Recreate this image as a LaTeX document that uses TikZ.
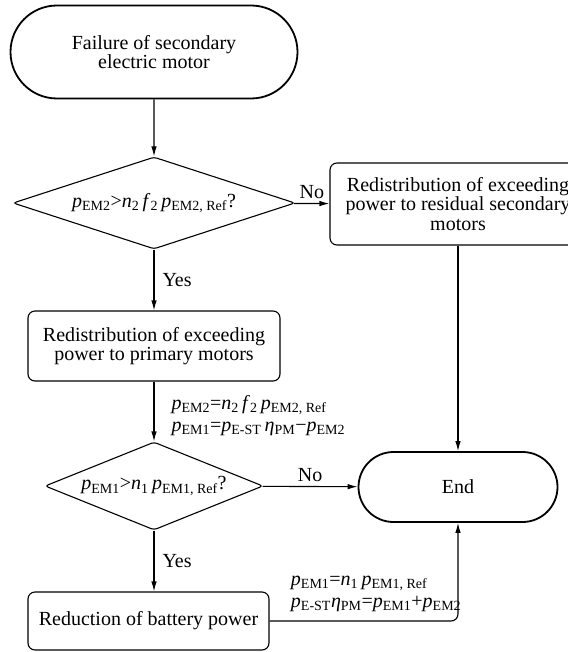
\documentclass[tikz,border=0pt]{standalone}
\usepackage{fontspec}
\setmainfont{Liberation Serif}
\usetikzlibrary{arrows.meta,positioning,shapes.geometric,shapes.misc}
\tikzstyle{term}=[rounded rectangle, draw, line width=1.8pt, inner sep=0pt, align=center]
\tikzstyle{dec}=[diamond, aspect=3.5, draw, line width=1.1pt, rounded corners=3pt, inner sep=0pt, align=center]
\tikzstyle{proc}=[rectangle, draw, line width=1.1pt, rounded corners=7pt, inner sep=0pt, align=center]
\tikzstyle{conn}=[draw, line width=1.1pt, -{Latex[length=10pt,width=5.5pt]}]
\tikzstyle{lbl}=[inner sep=2pt]
\tikzstyle{eqn}=[inner sep=2pt, align=left, font=\fontsize{20}{21.5}\selectfont]
\newcommand{\pv}[1]{\textit{p}\textsubscript{#1}}
\newcommand{\iv}[2]{\textit{#1}\textsubscript{#2}}
\begin{document}
\begin{tikzpicture}[x=1pt,y=-1pt,font=\fontsize{20}{19.5}\selectfont]
\useasboundingbox (0,0) rectangle (567,652);
\draw (154,52) node[term, minimum width=287pt, minimum height=93pt] (start) {Failure of secondary\\electric motor};
\draw (154,203) node[dec, minimum width=282pt, minimum height=92pt] (q1) {\pv{EM2}>\iv{n}{2}\,\iv{f}{2}\,\pv{EM2, Ref}?};
\draw (458,204) node[proc, minimum width=256pt, minimum height=82pt] (resid) {Redistribution of exceeding\\power to residual secondary\\motors};
\draw (154,346) node[proc, minimum width=252pt, minimum height=70pt] (prim) {Redistribution of exceeding\\power to primary motors};
\draw (154,486) node[dec, minimum width=218pt, minimum height=88pt] (q2) {\pv{EM1}>\iv{n}{1}\,\pv{EM1, Ref}?};
\draw (458,487) node[term, minimum width=199pt, minimum height=70pt] (end) {End};
\draw (148.5,621) node[proc, minimum width=241pt, minimum height=58pt] (batt) {Reduction of battery power};
\path
    (start) edge[conn] (q1)
    (q1) edge[conn] node[lbl, right, xshift=6pt]{Yes} (prim)
    (q1) edge[conn] node[lbl, above, yshift=2pt]{No} (resid)
    (resid) edge[conn] (end)
    (prim) edge[conn] node[eqn, anchor=west, pos=0.57, xshift=15pt]{\pv{EM2}=\iv{n}{2}\,\iv{f}{2}\,\pv{EM2, Ref}\\\pv{EM1}=\pv{E-ST}\,\iv{η}{PM}−\pv{EM2}} (q2)
    (q2) edge[conn] node[lbl, above, yshift=2pt]{No} (end)
    (q2.south) edge[conn] node[lbl, right, xshift=6pt]{Yes} (q2.south |- batt.north)
;
\draw[conn, rounded corners=7pt] (batt.east) -| node[eqn, anchor=south west, pos=0.05, yshift=7pt]{\pv{EM1}=\iv{n}{1}\,\pv{EM1, Ref}\\\pv{E-ST}\iv{η}{PM}=\pv{EM1}+\pv{EM2}} (end.south);
\end{tikzpicture}
\end{document}
